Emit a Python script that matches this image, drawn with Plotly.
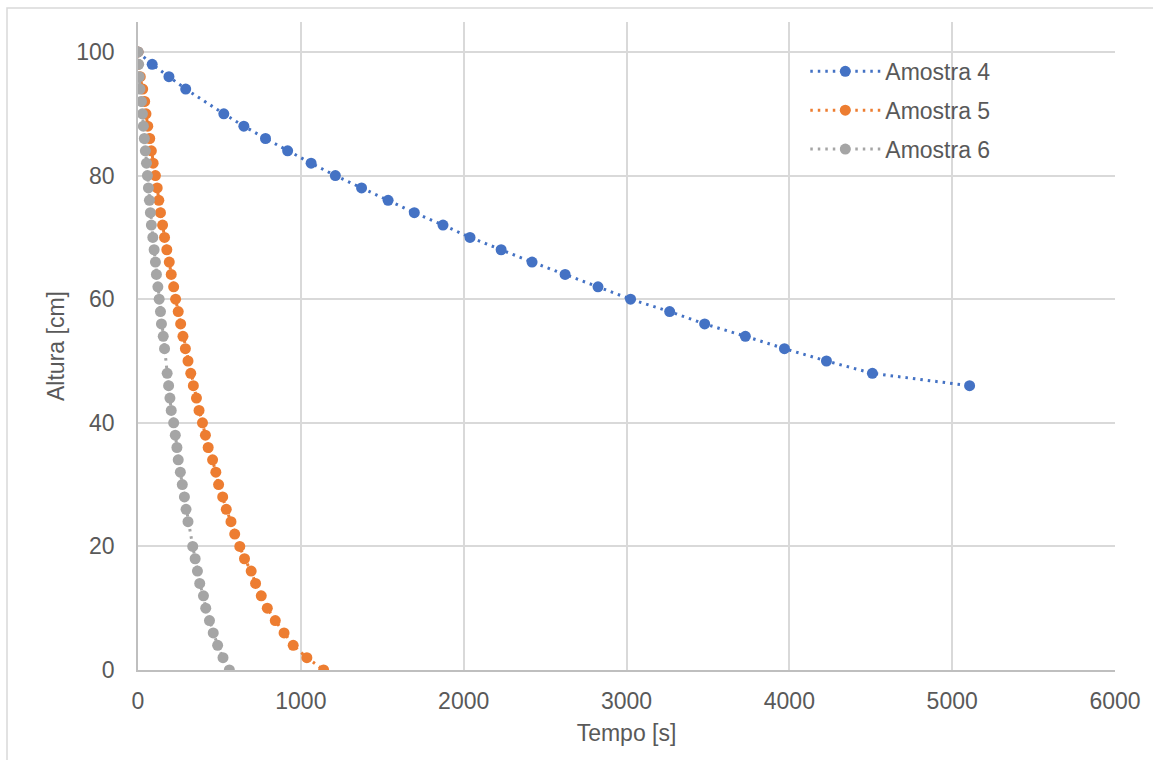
import plotly.graph_objects as go

# Amostra 4
tempo_4 = [0, 87, 190, 293, 527, 650, 783, 919, 1063, 1212, 1373, 1536, 1697, 1873,
           2039, 2230, 2420, 2623, 2825, 3025, 3265, 3480, 3730, 3970, 4228, 4510, 5107]
altura_4 = [100, 98, 96, 94, 90, 88, 86, 84, 82, 80, 78, 76, 74, 72,
            70, 68, 66, 64, 62, 60, 58, 56, 54, 52, 50, 48, 46]

# Amostra 5
tempo_5 = [0, 0, 14, 29, 41, 49, 60, 72, 82, 93, 107, 118, 128, 138, 151, 163, 177, 192,
           204, 219, 231, 247, 262, 276, 291, 307, 324, 340, 359, 375, 396, 414, 431,
           458, 478, 495, 520, 542, 571, 594, 625, 654, 695, 722, 757, 794, 843, 897,
           953, 1037, 1140]
altura_5 = [100, 98, 96, 94, 92, 90, 88, 86, 84, 82, 80, 78, 76, 74, 72, 70, 68, 66,
            64, 62, 60, 58, 56, 54, 52, 50, 48, 46, 44, 42, 40, 38, 36,
            34, 32, 30, 28, 26, 24, 22, 20, 18, 16, 14, 12, 10, 8, 6,
            4, 2, 0]

# Amostra 6
tempo_6 = [0, 4, 8, 12, 21, 27, 33, 39, 45, 52, 58, 64, 70, 76, 82, 91, 99, 107, 113,
           122, 130, 138, 144, 155, 163, 179, 188, 196, 204, 219, 229, 239, 247, 260,
           272, 285, 295, 307, 336, 351, 365, 379, 402, 416, 439, 462, 489, 522, 561]
altura_6 = [100, 98, 96, 94, 92, 90, 88, 86, 84, 82, 80, 78, 76, 74, 72, 70, 68, 66, 64,
            62, 60, 58, 56, 54, 52, 48, 46, 44, 42, 40, 38, 36, 34, 32,
            30, 28, 26, 24, 20, 18, 16, 14, 12, 10, 8, 6, 4, 2, 0]

series = [
    ("Amostra 4", tempo_4, altura_4, "#4472C4"),
    ("Amostra 5", tempo_5, altura_5, "#ED7D31"),
    ("Amostra 6", tempo_6, altura_6, "#A5A5A5"),
]

FONT = "Liberation Sans, Arial, sans-serif"
TXT = "#595959"
FS = 23

fig = go.Figure()
for name, t, h, color in series:
    fig.add_trace(go.Scatter(
        x=t, y=h, name=name, legendgroup=name, mode="lines+markers",
        line=dict(color=color, width=3, dash="2.5px,5px"),
        marker=dict(color=color, size=11),
    ))

fig.update_layout(
    width=1153, height=760,
    margin=dict(l=138, r=38, t=22, b=90),
    paper_bgcolor="white", plot_bgcolor="white",
    font=dict(family=FONT, size=FS, color=TXT),
    showlegend=True,
    legend=dict(
        x=0.683, y=0.957, xanchor="left", yanchor="top",
        bgcolor="rgba(0,0,0,0)", font=dict(size=FS, color=TXT),
        tracegroupgap=6, itemwidth=70,
    ),
    xaxis=dict(
        range=[0, 6000], tickvals=[0, 1000, 2000, 3000, 4000, 5000, 6000],
        showgrid=True, gridcolor="#D9D9D9", gridwidth=1.5,
        showline=True, linecolor="#BFBFBF", linewidth=1.5,
        zeroline=False, ticks="", ticklabelstandoff=10,
        title=dict(text="Tempo [s]", standoff=12, font=dict(size=FS, color=TXT)),
    ),
    yaxis=dict(
        range=[0, 104.85], tickvals=[0, 20, 40, 60, 80, 100],
        showgrid=True, gridcolor="#D9D9D9", gridwidth=1.5,
        showline=True, linecolor="#BFBFBF", linewidth=1.5,
        zeroline=False, ticks="", ticklabelstandoff=17,
        title=dict(text="Altura [cm]", standoff=5, font=dict(size=FS, color=TXT)),
    ),
)

# chart frame
fig.add_shape(type="rect", xref="paper", yref="paper",
              x0=(7 - 138) / 977, x1=1.2, y0=-0.3, y1=(670 - 8) / 648,
              line=dict(color="#D9D9D9", width=1.5), layer="below")

fig.write_html("out.html")
